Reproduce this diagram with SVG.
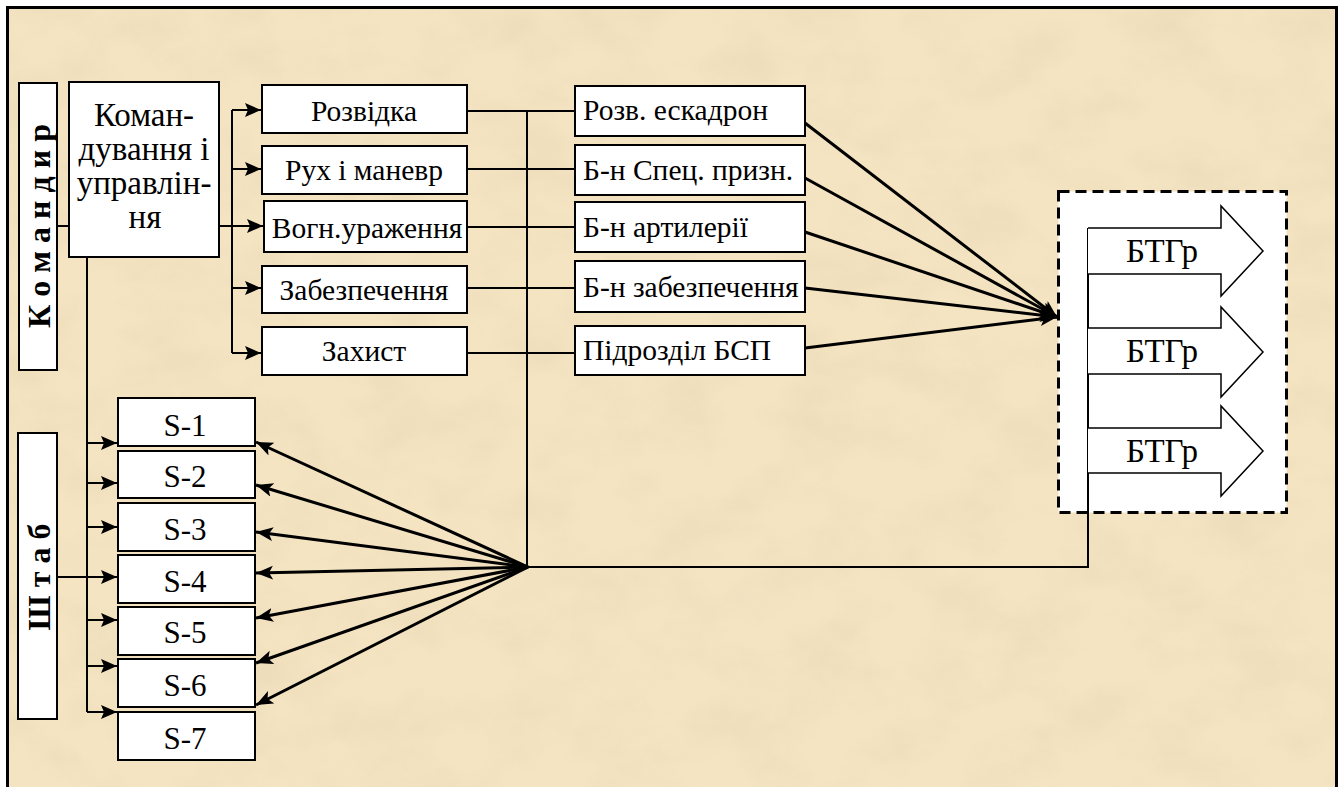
<svg xmlns="http://www.w3.org/2000/svg" width="1344" height="787" viewBox="0 0 1344 787">
  <defs>
    <style>
      .box { fill: #fff; stroke: #000; stroke-width: 2; }
      .lbl { font-family: "Liberation Serif", "Times New Roman", serif; font-size: 29.5px; fill: #000; }
      .big { font-size: 33px; }
      .tag { font-size: 33px; }
      .cell { font-size: 31px; }
      .mid { text-anchor: middle; }
      .side { font-family: "Liberation Serif", "Times New Roman", serif; font-size: 32px; font-weight: bold; fill: #000; text-anchor: middle; }
      .ln { fill: none; stroke: #000; stroke-width: 2; }
      .fan { fill: none; stroke: #000; stroke-width: 3; }
      .blk { fill: #fff; stroke: #000; stroke-width: 1.5; stroke-linejoin: miter; }
    </style>
    <marker id="tip" markerUnits="userSpaceOnUse" markerWidth="17" markerHeight="15" refX="16" refY="7" orient="auto">
      <path d="M0,0 L16,7 L0,14 L3,7 z" fill="#000"/>
    </marker>
    <marker id="tipBig" markerUnits="userSpaceOnUse" markerWidth="18" markerHeight="16" refX="17" refY="7" orient="auto">
      <path d="M0,0 L17,7 L0,14 L4,7 z" fill="#000"/>
    </marker>
    <filter id="paper" x="0" y="0" width="100%" height="100%">
      <feTurbulence type="fractalNoise" baseFrequency="0.014 0.02" numOctaves="4" seed="7"/>
      <feColorMatrix type="matrix" values="0 0 0 0 0.80  0 0 0 0 0.67  0 0 0 0 0.45  1.3 0 0 0 -0.52"/>
    </filter>
  </defs>

  <!-- page and parchment field -->
  <rect x="0" y="0" width="1344" height="787" fill="#fff"/>
  <rect x="7" y="7" width="1330" height="780" fill="#f4e4c2"/>
  <rect x="7" y="7" width="1330" height="780" filter="url(#paper)" opacity="0.75"/>
  <path d="M7.5,790 V7.5 H1336.5 V790" fill="none" stroke="#000" stroke-width="3"/>

  <!-- group container -->
  <g id="btgr-group">
    <rect x="1058.5" y="191.5" width="228" height="321" fill="#fff" stroke="#000" stroke-width="3" stroke-dasharray="11 6"/>
  </g>

  <g id="connectors">
    <!-- commander / command block links -->
    <path class="ln" d="M57,226 H69"/>
    <path class="ln" d="M232,110 V353"/>
    <path class="ln" d="M232,110 H261" marker-end="url(#tip)"/>
    <path class="ln" d="M232,169 H261" marker-end="url(#tip)"/>
    <path class="ln" d="M219,226 H263" marker-end="url(#tip)"/>
    <path class="ln" d="M232,288 H261" marker-end="url(#tip)"/>
    <path class="ln" d="M232,353 H261" marker-end="url(#tip)"/>
    <!-- staff bus -->
    <path class="ln" d="M87,257 V712"/>
    <path class="ln" d="M87,443 H117" marker-end="url(#tip)"/>
    <path class="ln" d="M87,483 H117" marker-end="url(#tip)"/>
    <path class="ln" d="M87,527 H117" marker-end="url(#tip)"/>
    <path class="ln" d="M57,577 H117" marker-end="url(#tip)"/>
    <path class="ln" d="M87,620 H117" marker-end="url(#tip)"/>
    <path class="ln" d="M87,666 H117" marker-end="url(#tip)"/>
    <path class="ln" d="M87,712 H117" marker-end="url(#tip)"/>
    <!-- functions to units -->
    <path class="ln" d="M467,111 H575"/>
    <path class="ln" d="M467,169 H575"/>
    <path class="ln" d="M467,227 H575"/>
    <path class="ln" d="M467,288 H575"/>
    <path class="ln" d="M467,353 H575"/>
    <path class="ln" d="M527,110 V567 H1088 V228"/>
    <!-- fan to staff cells -->
    <path class="fan" d="M528,567 L256,442" marker-end="url(#tipBig)"/>
    <path class="fan" d="M528,567 L256,485" marker-end="url(#tipBig)"/>
    <path class="fan" d="M528,567 L256,532" marker-end="url(#tipBig)"/>
    <path class="fan" d="M528,567 L256,573" marker-end="url(#tipBig)"/>
    <path class="fan" d="M528,567 L256,618" marker-end="url(#tipBig)"/>
    <path class="fan" d="M528,567 L256,663" marker-end="url(#tipBig)"/>
    <path class="fan" d="M528,567 L256,705" marker-end="url(#tipBig)"/>
    <!-- fan to battalion tactical groups -->
    <path class="fan" d="M805,123 L1057,317" marker-end="url(#tipBig)"/>
    <path class="fan" d="M805,178 L1057,317" marker-end="url(#tipBig)"/>
    <path class="fan" d="M805,232 L1057,317" marker-end="url(#tipBig)"/>
    <path class="fan" d="M805,288 L1057,317" marker-end="url(#tipBig)"/>
    <path class="fan" d="M805,348 L1057,317" marker-end="url(#tipBig)"/>
  </g>

  <g id="btgr-1">
    <path class="blk" d="M1088,228 H1221 V206 L1263,251 L1221,296 V274 H1088"/>
    <text class="lbl tag mid" x="1162" y="262">БТГр</text>
  </g>
  <g id="btgr-2">
    <path class="blk" d="M1088,328 H1221 V307 L1263,352 L1221,397 V374 H1088"/>
    <text class="lbl tag mid" x="1162" y="362">БТГр</text>
  </g>
  <g id="btgr-3">
    <path class="blk" d="M1088,428 H1221 V406 L1263,451 L1221,496 V473 H1088"/>
    <text class="lbl tag mid" x="1162" y="462">БТГр</text>
  </g>

  <g id="commander">
    <rect class="box" x="19" y="83" width="38" height="287"/>
    <text class="side" transform="translate(50,226) rotate(-90)">К о м а н д и р</text>
  </g>
  <g id="staff">
    <rect class="box" x="18" y="433" width="39" height="286"/>
    <text class="side" transform="translate(50,577) rotate(-90)">Ш т а б</text>
  </g>

  <g id="command-control">
    <rect class="box" x="69" y="82" width="150" height="175"/>
    <text class="lbl big mid" x="144" y="126">Коман-</text>
    <text class="lbl big mid" x="144" y="160">дування і</text>
    <text class="lbl big mid" x="144" y="194">управлін-</text>
    <text class="lbl big mid" x="145" y="228">ня</text>
  </g>

  <g id="recon">
    <rect class="box" x="262" y="85" width="205" height="48"/>
    <text class="lbl mid" x="364" y="121">Розвідка</text>
  </g>
  <g id="maneuver">
    <rect class="box" x="262" y="146" width="205" height="48"/>
    <text class="lbl mid" x="364" y="180">Рух і маневр</text>
  </g>
  <g id="fires">
    <rect class="box" x="264" y="201" width="203" height="51"/>
    <text class="lbl mid" x="367" y="238">Вогн.ураження</text>
  </g>
  <g id="sustainment">
    <rect class="box" x="262" y="266" width="205" height="47"/>
    <text class="lbl mid" x="364" y="300">Забезпечення</text>
  </g>
  <g id="protection">
    <rect class="box" x="262" y="327" width="205" height="48"/>
    <text class="lbl mid" x="364" y="361">Захист</text>
  </g>

  <g id="recon-squadron">
    <rect class="box" x="575" y="86" width="230" height="50"/>
    <text class="lbl" x="583" y="120">Розв. ескадрон</text>
  </g>
  <g id="special-bn">
    <rect class="box" x="575" y="145" width="230" height="50"/>
    <text class="lbl" x="583" y="180">Б-н Спец. призн.</text>
  </g>
  <g id="artillery-bn">
    <rect class="box" x="575" y="202" width="230" height="50"/>
    <text class="lbl" x="583" y="237">Б-н артилерії</text>
  </g>
  <g id="support-bn">
    <rect class="box" x="575" y="261" width="230" height="51"/>
    <text class="lbl" x="583" y="297">Б-н забезпечення</text>
  </g>
  <g id="uav-unit">
    <rect class="box" x="575" y="326" width="230" height="49"/>
    <text class="lbl" x="583" y="360">Підрозділ БСП</text>
  </g>

  <g id="s1"><rect class="box" x="118" y="398" width="137" height="48"/><text class="lbl cell mid" x="185" y="436">S-1</text></g>
  <g id="s2"><rect class="box" x="118" y="451" width="137" height="47"/><text class="lbl cell mid" x="185" y="487">S-2</text></g>
  <g id="s3"><rect class="box" x="118" y="503" width="137" height="48"/><text class="lbl cell mid" x="185" y="540">S-3</text></g>
  <g id="s4"><rect class="box" x="118" y="555" width="137" height="48"/><text class="lbl cell mid" x="185" y="592">S-4</text></g>
  <g id="s5"><rect class="box" x="118" y="607" width="137" height="48"/><text class="lbl cell mid" x="185" y="643">S-5</text></g>
  <g id="s6"><rect class="box" x="118" y="659" width="137" height="48"/><text class="lbl cell mid" x="185" y="696">S-6</text></g>
  <g id="s7"><rect class="box" x="118" y="712" width="137" height="48"/><text class="lbl cell mid" x="185" y="749">S-7</text></g>
</svg>
